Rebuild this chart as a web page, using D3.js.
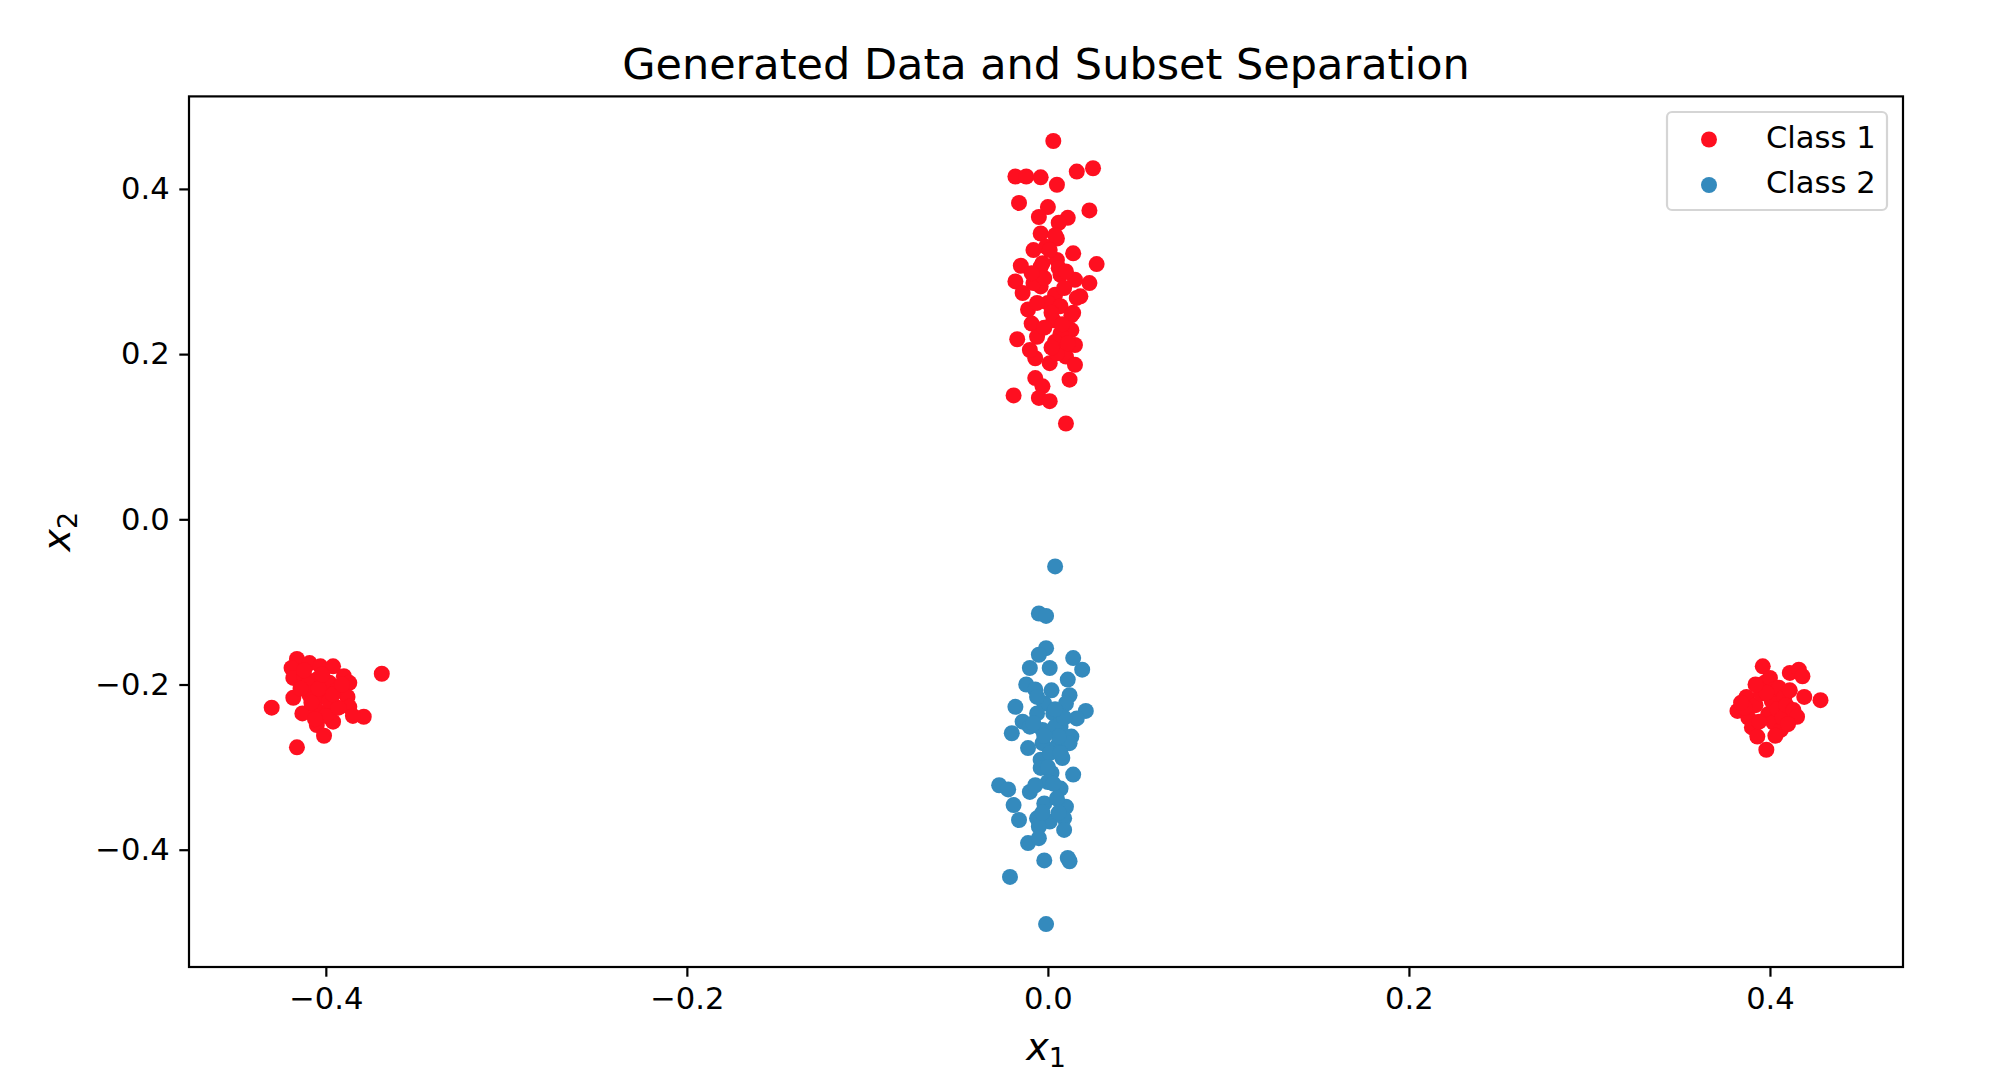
<!DOCTYPE html>
<html>
<head>
<meta charset="utf-8">
<script src="https://cdn.jsdelivr.net/npm/d3@7"></script>
<style>
  html, body { margin: 0; padding: 0; background: #ffffff; }
  svg { display: block; }
  text { font-family: "DejaVu Sans", sans-serif; fill: #000; }
</style>
</head>
<body>
<svg id="chart" width="2016" height="1092"></svg>
<script>
// ---------------- data ----------------
const chartTitle = "Generated Data and Subset Separation";
const seriesNames = ["Class 1", "Class 2"];
const xTicks = [-0.4, -0.2, 0.0, 0.2, 0.4];
const yTicks = [-0.4, -0.2, 0.0, 0.2, 0.4];
const xDomain = [-0.4758, 0.4737];
const yDomain = [-0.542, 0.512];

// Class 1: vertical cluster on top
const class1Top = [
  [0.003,0.458],[-0.018,0.415],[-0.012,0.415],[-0.004,0.414],[0.005,0.405],[0.016,0.421],[0.025,0.425],
  [-0.016,0.383],[0.023,0.374],[0.000,0.378],[-0.005,0.366],[0.011,0.365],[0.006,0.359],[-0.004,0.346],
  [0.005,0.340],[-0.008,0.326],[0.014,0.322],[-0.001,0.330],[-0.015,0.307],[0.027,0.309],[-0.003,0.310],
  [0.005,0.314],[0.007,0.296],[-0.018,0.288],[0.015,0.290],[0.023,0.286],[-0.014,0.274],[-0.004,0.282],
  [0.004,0.272],[0.018,0.270],[-0.011,0.254],[0.000,0.262],[0.007,0.258],[0.014,0.250],[-0.009,0.237],
  [0.003,0.241],[0.013,0.229],[-0.017,0.218],[-0.006,0.221],[0.007,0.225],[0.015,0.211],[-0.007,0.195],
  [0.001,0.189],[0.010,0.197],[0.015,0.187],[0.012,0.169],[-0.007,0.171],[-0.003,0.161],[-0.019,0.150],
  [-0.005,0.147],[0.001,0.143],[0.010,0.116],
  [0.004,0.344],[0.001,0.326],[-0.004,0.306],[0.006,0.304],[-0.008,0.286],[0.016,0.268],[0.013,0.247],
  [0.005,0.201],[-0.002,0.292],[0.002,0.250],[-0.006,0.262],[0.009,0.280],[-0.010,0.205],[0.004,0.215],
  [0.008,0.236],[-0.002,0.232],[0.010,0.300],[-0.009,0.298],[0.002,0.208],[0.011,0.213]
];
// Class 1: left cluster
const class1Left = [
  [-0.416,-0.169],[-0.409,-0.174],[-0.403,-0.178],[-0.396,-0.178],[-0.419,-0.180],[-0.418,-0.192],
  [-0.412,-0.190],[-0.405,-0.194],[-0.390,-0.190],[-0.387,-0.198],[-0.398,-0.198],[-0.394,-0.207],
  [-0.369,-0.187],[-0.418,-0.216],[-0.409,-0.213],[-0.401,-0.215],[-0.388,-0.215],[-0.387,-0.227],
  [-0.430,-0.228],[-0.413,-0.235],[-0.405,-0.231],[-0.398,-0.231],[-0.379,-0.239],[-0.385,-0.238],
  [-0.405,-0.249],[-0.396,-0.245],[-0.401,-0.262],[-0.416,-0.276],
  [-0.410,-0.200],[-0.404,-0.205],[-0.398,-0.220],[-0.408,-0.222],[-0.400,-0.238],[-0.393,-0.228],
  [-0.412,-0.183],[-0.402,-0.188],[-0.396,-0.212],[-0.406,-0.242],[-0.391,-0.200],[-0.414,-0.205]
];
// Class 1: right cluster
const class1Right = [
  [0.382,-0.232],[0.387,-0.215],[0.388,-0.240],[0.390,-0.252],[0.392,-0.225],[0.393,-0.263],
  [0.395,-0.211],[0.396,-0.178],[0.397,-0.198],[0.398,-0.279],[0.399,-0.236],[0.400,-0.192],
  [0.401,-0.220],[0.402,-0.246],[0.403,-0.205],[0.404,-0.230],[0.405,-0.204],[0.406,-0.255],
  [0.407,-0.240],[0.408,-0.215],[0.409,-0.225],[0.411,-0.186],[0.411,-0.207],[0.413,-0.231],
  [0.415,-0.239],[0.416,-0.182],[0.418,-0.190],[0.419,-0.215],[0.428,-0.219],[0.394,-0.245],
  [0.386,-0.228],[0.398,-0.210],[0.410,-0.248],[0.403,-0.262],[0.392,-0.200],[0.384,-0.222]
];
// Class 2: vertical cluster below
const class2 = [
  [0.004,-0.057],[-0.005,-0.114],[-0.001,-0.117],[-0.001,-0.156],[-0.005,-0.164],[-0.010,-0.180],
  [0.001,-0.180],[0.014,-0.168],[0.019,-0.182],[0.011,-0.194],[-0.012,-0.200],[-0.007,-0.206],
  [0.002,-0.207],[0.012,-0.213],[-0.018,-0.227],[-0.002,-0.223],[0.010,-0.223],[0.021,-0.232],
  [0.016,-0.241],[-0.014,-0.245],[-0.006,-0.235],[0.003,-0.235],[-0.020,-0.259],[-0.010,-0.251],
  [-0.003,-0.255],[0.007,-0.251],[0.013,-0.263],[-0.011,-0.277],[-0.003,-0.271],[0.005,-0.275],
  [0.012,-0.271],[-0.004,-0.291],[0.008,-0.289],[-0.004,-0.301],[0.002,-0.307],[0.014,-0.309],
  [-0.027,-0.322],[-0.022,-0.327],[-0.010,-0.330],[0.000,-0.318],[0.007,-0.326],[-0.019,-0.346],
  [-0.002,-0.344],[0.010,-0.348],[-0.016,-0.364],[-0.006,-0.362],[0.001,-0.366],[0.009,-0.362],
  [-0.005,-0.372],[0.009,-0.376],[-0.011,-0.392],[-0.005,-0.386],[-0.002,-0.413],[0.011,-0.410],
  [0.012,-0.414],[-0.021,-0.433],[-0.001,-0.490],
  [0.004,-0.251],[0.001,-0.283],[-0.008,-0.247],[0.006,-0.263],[0.000,-0.300],[0.003,-0.320],
  [-0.006,-0.215],[0.009,-0.240],[0.004,-0.230],[-0.002,-0.262],[0.007,-0.283],[-0.007,-0.322],
  [0.005,-0.338],[-0.003,-0.355],[0.006,-0.355]
];

const colors = ["#fe0f20", "#348abd"];

// ---------------- layout ----------------
const svg = d3.select("#chart");
const L = 189, R = 1903, T = 96.4, B = 967;

const x = d3.scaleLinear().domain(xDomain).range([L, R]);
const y = d3.scaleLinear().domain(yDomain).range([B, T]);

const tickLen = 9.7, fontPx = 30.6;

// points
const class1 = class1Top.concat(class1Left, class1Right);
const plot = svg.append("g");
plot.selectAll("circle.c1").data(class1).enter().append("circle")
  .attr("class", "c1")
  .attr("cx", d => x(d[0])).attr("cy", d => y(d[1]))
  .attr("r", 8).attr("fill", colors[0]);
plot.selectAll("circle.c2").data(class2).enter().append("circle")
  .attr("class", "c2")
  .attr("cx", d => x(d[0])).attr("cy", d => y(d[1]))
  .attr("r", 8).attr("fill", colors[1]);

// axes
const fmt = d3.format(".1f");
const xAxis = svg.append("g").attr("transform", `translate(0,${B})`)
  .call(d3.axisBottom(x).tickValues(xTicks).tickFormat(fmt).tickSize(tickLen).tickPadding(11));
const yAxis = svg.append("g").attr("transform", `translate(${L},0)`)
  .call(d3.axisLeft(y).tickValues(yTicks).tickFormat(fmt).tickSize(tickLen).tickPadding(9.7));
[xAxis, yAxis].forEach(a => {
  a.select(".domain").remove();
  a.selectAll(".tick line").attr("stroke", "#000").attr("stroke-width", 2.2);
  a.selectAll(".tick text").attr("font-family", "DejaVu Sans").attr("font-size", fontPx).attr("fill", "#000");
});

// frame
svg.append("rect").attr("x", L).attr("y", T).attr("width", R - L).attr("height", B - T)
  .attr("fill", "none").attr("stroke", "#000").attr("stroke-width", 2.2);

// title
svg.append("text").attr("x", (L + R) / 2).attr("y", 79)
  .attr("text-anchor", "middle").attr("font-size", 43).text(chartTitle);

// x label: x_1
const xl = svg.append("text").attr("x", (L + R) / 2).attr("y", 1060)
  .attr("text-anchor", "middle").attr("font-size", 38);
xl.append("tspan").attr("font-style", "italic").text("x");
xl.append("tspan").attr("font-size", 27).attr("dy", 7).text("1");

// y label: x_2 rotated
const yl = svg.append("text")
  .attr("transform", `translate(70,${(T + B) / 2}) rotate(-90)`)
  .attr("text-anchor", "middle").attr("font-size", 38);
yl.append("tspan").attr("font-style", "italic").text("x");
yl.append("tspan").attr("font-size", 27).attr("dy", 7).text("2");

// legend
const lg = svg.append("g");
lg.append("rect").attr("x", 1667).attr("y", 112).attr("width", 220).attr("height", 98)
  .attr("rx", 5).attr("fill", "#fff").attr("fill-opacity", 0.8)
  .attr("stroke", "#d5d5d5").attr("stroke-width", 2.2);
seriesNames.forEach((name, i) => {
  const cy = 139.5 + i * 45.5;
  lg.append("circle").attr("cx", 1709).attr("cy", cy).attr("r", 8).attr("fill", colors[i]);
  lg.append("text").attr("x", 1766).attr("y", cy + 8).attr("font-size", fontPx).text(name);
});
</script>
</body>
</html>
